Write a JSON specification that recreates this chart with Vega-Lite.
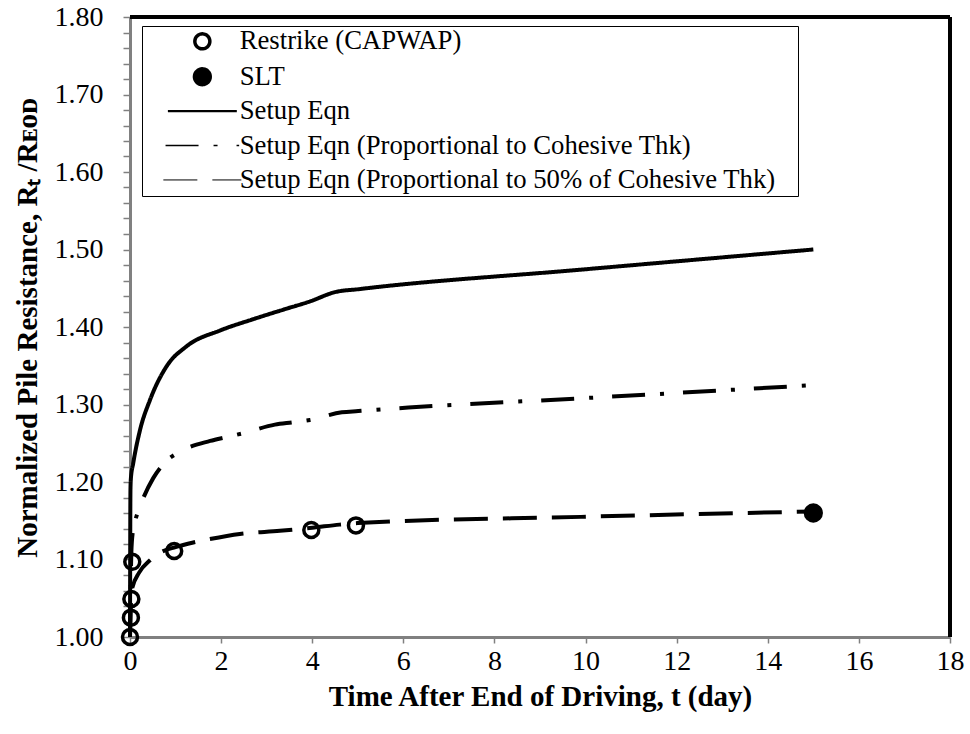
{
  "$schema": "https://vega.github.io/schema/vega-lite/v6.json",
  "width": 820,
  "height": 620,
  "autosize": {"type": "none"},
  "padding": {"left": 130, "top": 17, "right": 20, "bottom": 97},
  "background": "white",
  "config": {"view": {"stroke": null}, "font": "Liberation Serif"},
  "data": {
    "values": [
      {"s": "Setup Eqn", "t": 0, "v": 1.0},
      {"s": "Setup Eqn", "t": 0.01, "v": 1.19},
      {"s": "Setup Eqn", "t": 0.02, "v": 1.205},
      {"s": "Setup Eqn", "t": 0.07, "v": 1.224},
      {"s": "Setup Eqn", "t": 0.22, "v": 1.267},
      {"s": "Setup Eqn", "t": 0.44, "v": 1.306},
      {"s": "Setup Eqn", "t": 0.8, "v": 1.349},
      {"s": "Setup Eqn", "t": 1.24, "v": 1.375},
      {"s": "Setup Eqn", "t": 2.0, "v": 1.396},
      {"s": "Setup Eqn", "t": 2.7, "v": 1.41},
      {"s": "Setup Eqn", "t": 3.4, "v": 1.423},
      {"s": "Setup Eqn", "t": 3.95, "v": 1.433},
      {"s": "Setup Eqn", "t": 4.5, "v": 1.445},
      {"s": "Setup Eqn", "t": 5.05, "v": 1.449},
      {"s": "Setup Eqn", "t": 9.9, "v": 1.474},
      {"s": "Setup Eqn", "t": 15, "v": 1.5},
      {"s": "Setup Eqn (Proportional to Cohesive Thk)", "t": 0, "v": 1.0},
      {"s": "Setup Eqn (Proportional to Cohesive Thk)", "t": 0.03, "v": 1.11},
      {"s": "Setup Eqn (Proportional to Cohesive Thk)", "t": 0.06, "v": 1.135},
      {"s": "Setup Eqn (Proportional to Cohesive Thk)", "t": 0.11, "v": 1.149},
      {"s": "Setup Eqn (Proportional to Cohesive Thk)", "t": 0.23, "v": 1.17},
      {"s": "Setup Eqn (Proportional to Cohesive Thk)", "t": 0.51, "v": 1.205},
      {"s": "Setup Eqn (Proportional to Cohesive Thk)", "t": 0.78, "v": 1.226},
      {"s": "Setup Eqn (Proportional to Cohesive Thk)", "t": 1.06, "v": 1.238},
      {"s": "Setup Eqn (Proportional to Cohesive Thk)", "t": 1.76, "v": 1.253},
      {"s": "Setup Eqn (Proportional to Cohesive Thk)", "t": 2.12, "v": 1.258},
      {"s": "Setup Eqn (Proportional to Cohesive Thk)", "t": 2.49, "v": 1.263},
      {"s": "Setup Eqn (Proportional to Cohesive Thk)", "t": 3.18, "v": 1.274},
      {"s": "Setup Eqn (Proportional to Cohesive Thk)", "t": 3.57, "v": 1.277},
      {"s": "Setup Eqn (Proportional to Cohesive Thk)", "t": 3.95, "v": 1.28},
      {"s": "Setup Eqn (Proportional to Cohesive Thk)", "t": 4.65, "v": 1.29},
      {"s": "Setup Eqn (Proportional to Cohesive Thk)", "t": 5.01, "v": 1.2915},
      {"s": "Setup Eqn (Proportional to Cohesive Thk)", "t": 6.11, "v": 1.296},
      {"s": "Setup Eqn (Proportional to Cohesive Thk)", "t": 9.9, "v": 1.308},
      {"s": "Setup Eqn (Proportional to Cohesive Thk)", "t": 15, "v": 1.325},
      {"s": "Setup Eqn (Proportional to 50% of Cohesive Thk)", "t": 0, "v": 1.0},
      {"s": "Setup Eqn (Proportional to 50% of Cohesive Thk)", "t": 0.02, "v": 1.045},
      {"s": "Setup Eqn (Proportional to 50% of Cohesive Thk)", "t": 0.04, "v": 1.061},
      {"s": "Setup Eqn (Proportional to 50% of Cohesive Thk)", "t": 0.2, "v": 1.083},
      {"s": "Setup Eqn (Proportional to 50% of Cohesive Thk)", "t": 0.44, "v": 1.099},
      {"s": "Setup Eqn (Proportional to 50% of Cohesive Thk)", "t": 0.67, "v": 1.109},
      {"s": "Setup Eqn (Proportional to 50% of Cohesive Thk)", "t": 1.0, "v": 1.116},
      {"s": "Setup Eqn (Proportional to 50% of Cohesive Thk)", "t": 1.39, "v": 1.122},
      {"s": "Setup Eqn (Proportional to 50% of Cohesive Thk)", "t": 1.72, "v": 1.126},
      {"s": "Setup Eqn (Proportional to 50% of Cohesive Thk)", "t": 2.41, "v": 1.133},
      {"s": "Setup Eqn (Proportional to 50% of Cohesive Thk)", "t": 3.29, "v": 1.137},
      {"s": "Setup Eqn (Proportional to 50% of Cohesive Thk)", "t": 4.0, "v": 1.141},
      {"s": "Setup Eqn (Proportional to 50% of Cohesive Thk)", "t": 4.6, "v": 1.145},
      {"s": "Setup Eqn (Proportional to 50% of Cohesive Thk)", "t": 5.0, "v": 1.147},
      {"s": "Setup Eqn (Proportional to 50% of Cohesive Thk)", "t": 9.9, "v": 1.155},
      {"s": "Setup Eqn (Proportional to 50% of Cohesive Thk)", "t": 15, "v": 1.162},
      {"s": "Restrike (CAPWAP)", "t": 0, "v": 1.0},
      {"s": "Restrike (CAPWAP)", "t": 0.02, "v": 1.025},
      {"s": "Restrike (CAPWAP)", "t": 0.03, "v": 1.049},
      {"s": "Restrike (CAPWAP)", "t": 0.05, "v": 1.097},
      {"s": "Restrike (CAPWAP)", "t": 0.97, "v": 1.111},
      {"s": "Restrike (CAPWAP)", "t": 3.98, "v": 1.138},
      {"s": "Restrike (CAPWAP)", "t": 4.96, "v": 1.144},
      {"s": "SLT", "t": 15, "v": 1.16}
    ]
  },
  "layer": [
    {
      "transform": [{"filter": {"field": "s", "oneOf": ["Setup Eqn", "Setup Eqn (Proportional to Cohesive Thk)", "Setup Eqn (Proportional to 50% of Cohesive Thk)"]}}],
      "mark": {"type": "line", "stroke": "black", "strokeWidth": 4, "strokeCap": "butt", "interpolate": "monotone"},
      "encoding": {
        "x": {
          "field": "t", "type": "quantitative",
          "scale": {"domain": [0, 18], "nice": false, "zero": false},
          "axis": {
            "values": [0, 2, 4, 6, 8, 10, 12, 14, 16, 18], "format": "d", "tickCount": 20,
            "title": "Time After End of Driving, t (day)",
            "grid": false, "domainColor": "#808080", "domainWidth": 3,
            "tickColor": "#808080", "tickWidth": 1.5, "tickSize": 6,
            "labelFont": "Liberation Serif", "labelFontSize": 28, "labelColor": "black", "labelPadding": 4, "labelFlush": false,
            "titleFont": "Liberation Serif", "titleFontSize": 29, "titleFontWeight": "bold", "titleColor": "black", "titlePadding": 7
          }
        },
        "y": {
          "field": "v", "type": "quantitative",
          "scale": {"domain": [1, 1.8], "nice": false, "zero": false},
          "axis": {
            "values": [1.0, 1.02, 1.04, 1.06, 1.08, 1.1, 1.12, 1.14, 1.16, 1.18, 1.2, 1.22, 1.24, 1.26, 1.28, 1.3, 1.32, 1.34, 1.36, 1.38, 1.4, 1.42, 1.44, 1.46, 1.48, 1.5, 1.52, 1.54, 1.56, 1.58, 1.6, 1.62, 1.64, 1.66, 1.68, 1.7, 1.72, 1.74, 1.76, 1.78, 1.8],
            "tickCount": 60,
            "labelExpr": "abs(datum.value * 10 - round(datum.value * 10)) < 0.01 ? format(datum.value, '.2f') : ''",
            "title": "Normalized Pile Resistance, Rₜ /Rᴇᴏᴅ",
            "grid": false, "domainColor": "#808080", "domainWidth": 3,
            "tickColor": "#808080", "tickWidth": 1.5, "tickSize": 7,
            "labelFont": "Liberation Serif", "labelFontSize": 28, "labelColor": "black", "labelPadding": 20, "labelFlush": false, "labelOverlap": false,
            "titleFont": "Liberation Serif", "titleFontSize": 29, "titleFontWeight": "bold", "titleColor": "black", "titlePadding": 12
          }
        },
        "strokeDash": {
          "field": "s", "type": "nominal",
          "scale": {
            "domain": ["Restrike (CAPWAP)", "SLT", "Setup Eqn", "Setup Eqn (Proportional to Cohesive Thk)", "Setup Eqn (Proportional to 50% of Cohesive Thk)"],
            "range": [[1, 0], [1, 0], [1, 0], [33, 15, 4, 19], [34, 15]]
          },
          "legend": {"title": "\u00a0"}
        }
      }
    },
    {
      "transform": [{"filter": {"field": "s", "oneOf": ["Restrike (CAPWAP)", "SLT"]}}],
      "mark": {"type": "point", "stroke": "black", "opacity": 1},
      "encoding": {
        "x": {"field": "t", "type": "quantitative"},
        "y": {"field": "v", "type": "quantitative"},
        "shape": {
          "field": "s", "type": "nominal",
          "scale": {
            "domain": ["Restrike (CAPWAP)", "SLT", "Setup Eqn", "Setup Eqn (Proportional to Cohesive Thk)", "Setup Eqn (Proportional to 50% of Cohesive Thk)"],
            "range": ["circle", "circle", "M-3.9,0H3.9", "M-3.9,0H3.9", "M-3.9,0H3.9"]
          },
          "legend": {
            "title": "\u00a0", "titleOrient": "right", "titleFontSize": 1, "titlePadding": 20,
            "orient": "none", "legendX": 12, "legendY": 9,
            "padding": 2, "strokeColor": "black", "fillColor": "white",
            "labelFont": "Liberation Serif", "labelFontSize": 26.7, "labelColor": "black", "labelLimit": 900,
            "symbolOffset": 45, "labelOffset": 24, "rowPadding": 6.4
          }
        },
        "fill": {
          "field": "s", "type": "nominal",
          "scale": {
            "domain": ["Restrike (CAPWAP)", "SLT", "Setup Eqn", "Setup Eqn (Proportional to Cohesive Thk)", "Setup Eqn (Proportional to 50% of Cohesive Thk)"],
            "range": ["transparent", "black", "transparent", "transparent", "transparent"]
          },
          "legend": {"title": "\u00a0"}
        },
        "size": {
          "field": "s", "type": "nominal",
          "scale": {
            "domain": ["Restrike (CAPWAP)", "SLT", "Setup Eqn", "Setup Eqn (Proportional to Cohesive Thk)", "Setup Eqn (Proportional to 50% of Cohesive Thk)"],
            "range": [225, 400, 225, 225, 225]
          },
          "legend": {"title": "\u00a0"}
        },
        "strokeWidth": {
          "field": "s", "type": "nominal",
          "scale": {
            "domain": ["Restrike (CAPWAP)", "SLT", "Setup Eqn", "Setup Eqn (Proportional to Cohesive Thk)", "Setup Eqn (Proportional to 50% of Cohesive Thk)"],
            "range": [3.5, 1, 4.5, 4.5, 4.5]
          },
          "legend": {"title": "\u00a0"}
        }
      }
    },
    {
      "data": {"values": [{}]},
      "mark": {"type": "rule", "stroke": "black", "strokeWidth": 4},
      "encoding": {"y": {"datum": 1.8, "type": "quantitative"}}
    },
    {
      "data": {"values": [{}]},
      "mark": {"type": "rule", "stroke": "black", "strokeWidth": 4},
      "encoding": {"x": {"datum": 18, "type": "quantitative"}}
    }
  ]
}
